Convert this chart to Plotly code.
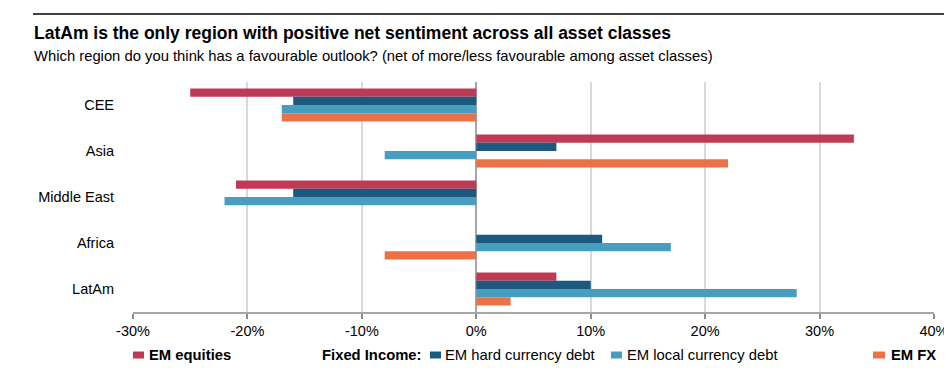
import plotly.graph_objects as go

regions = ["CEE", "Asia", "Middle East", "Africa", "LatAm"]
em_equities = [-25, 33, -21, 0, 7]
em_hard_currency_debt = [-16, 7, -16, 11, 10]
em_local_currency_debt = [-17, -8, -22, 17, 28]
em_fx = [-17, 22, 0, -8, 3]
x_tick_values = [-30, -20, -10, 0, 10, 20, 30, 40]
x_tick_labels = ["-30%", "-20%", "-10%", "0%", "10%", "20%", "30%", "40%"]

title_text = "LatAm is the only region with positive net sentiment across all asset classes"
subtitle_text = "Which region do you think has a favourable outlook? (net of more/less favourable among asset classes)"

C_EQ = "#BF3A55"
C_HARD = "#1B5A7E"
C_LOCAL = "#479EC1"
C_FX = "#EB7146"

FONT = "Liberation Sans, Arial, sans-serif"

W, H = 952, 368
L, R, T, B = 125, 26, 74, 64
PW = W - L - R
PH = H - T - B


def px(x):
    return (x - L) / PW


def py(y):
    return (H - B - y) / PH


fig = go.Figure()
series = [
    ("EM equities", em_equities, C_EQ),
    ("EM hard currency debt", em_hard_currency_debt, C_HARD),
    ("EM local currency debt", em_local_currency_debt, C_LOCAL),
    ("EM FX", em_fx, C_FX),
]
for name, vals, col in series:
    fig.add_trace(go.Bar(
        y=regions, x=vals, name=name, orientation="h",
        marker=dict(color=col, line=dict(width=0)),
        showlegend=False,
    ))

shapes = []
annotations = []

# top rule
shapes.append(dict(type="line", xref="paper", yref="paper",
                   x0=px(25), x1=px(952), y0=py(6), y1=py(6),
                   line=dict(color="#000000", width=1.5)))

annotations.append(dict(text="<b>" + title_text + "</b>", xref="paper", yref="paper",
                        x=px(24), y=py(25), xanchor="left", yanchor="middle",
                        showarrow=False, font=dict(family=FONT, size=17.5, color="#000000")))
annotations.append(dict(text=subtitle_text, xref="paper", yref="paper",
                        x=px(24), y=py(48), xanchor="left", yanchor="middle",
                        showarrow=False, font=dict(family=FONT, size=14.8, color="#000000")))

# legend (manual)
LEG_Y = 347
legend_items = [
    (125, 136, C_EQ, 140, "<b>EM equities</b>"),
    (None, None, None, 313, "<b>Fixed Income:</b>"),
    (422, 433, C_HARD, 436, "EM hard currency debt"),
    (603, 614, C_LOCAL, 618, "EM local currency debt"),
    (865, 877, C_FX, 882, "<b>EM FX</b>"),
]
for x0, x1, col, tx, txt in legend_items:
    if col is not None:
        shapes.append(dict(type="rect", xref="paper", yref="paper",
                           x0=px(x0), x1=px(x1), y0=py(LEG_Y + 3.5), y1=py(LEG_Y - 3.5),
                           fillcolor=col, line=dict(width=0)))
    annotations.append(dict(text=txt, xref="paper", yref="paper",
                            x=px(tx), y=py(LEG_Y), xanchor="left", yanchor="middle",
                            showarrow=False, borderpad=0,
                            font=dict(family=FONT, size=14.8, color="#000000")))

fig.update_layout(
    width=W, height=H,
    margin=dict(l=L, r=R, t=T, b=B, pad=0),
    paper_bgcolor="#FFFFFF", plot_bgcolor="#FFFFFF",
    barmode="group", bargap=0.28, bargroupgap=0,
    font=dict(family=FONT, size=14, color="#000000"),
    shapes=shapes, annotations=annotations,
    xaxis=dict(
        range=[-30, 40], tickmode="array", tickvals=x_tick_values, ticktext=x_tick_labels,
        showgrid=True, gridcolor="#D9D9D9", gridwidth=1.5,
        zeroline=True, zerolinecolor="#A6A6A6", zerolinewidth=2,
        showline=True, linecolor="#A6A6A6", linewidth=2,
        ticks="outside", ticklen=5, tickwidth=2, tickcolor="#8C8C8C",
        tickfont=dict(family=FONT, size=14.5, color="#000000"),
        fixedrange=True,
    ),
    yaxis=dict(
        categoryorder="array", categoryarray=regions, autorange="reversed",
        showgrid=False, zeroline=False, showline=False, ticks="",
        ticklabelstandoff=18,
        tickfont=dict(family=FONT, size=14.5, color="#000000"),
        fixedrange=True,
    ),
)

fig.write_html("out.html")
